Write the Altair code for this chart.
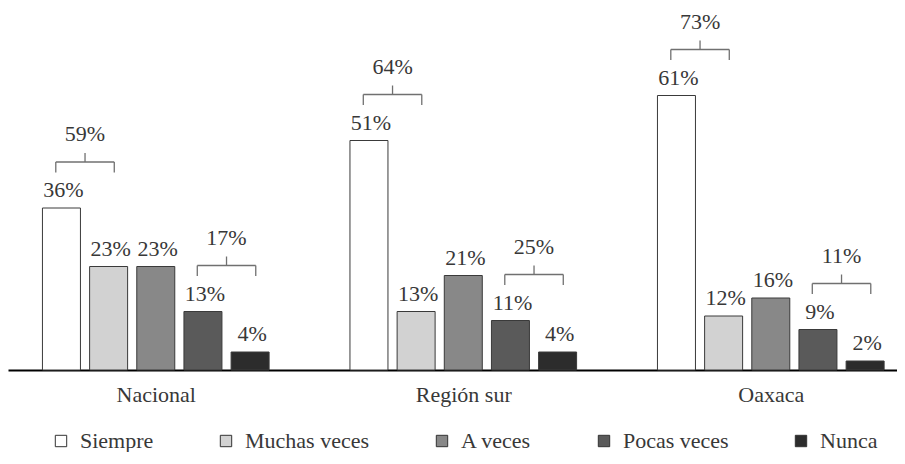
import altair as alt
import pandas as pd

# ---------------- data ----------------
groups = ["Nacional", "Región sur", "Oaxaca"]
categories = ["Siempre", "Muchas veces", "A veces", "Pocas veces", "Nunca"]
nacional = [36, 23, 23, 13, 4]
region_sur = [51, 13, 21, 11, 4]
oaxaca = [61, 12, 16, 9, 2]
top_pair_totals = [59, 64, 73]   # Siempre + Muchas veces (as printed)
low_pair_totals = [17, 25, 11]   # Pocas veces + Nunca (as printed)
fills = ["#ffffff", "#d2d2d2", "#888888", "#5a5a5a", "#2c2c2c"]

# ---------------- layout ----------------
FONT = "'Liberation Serif', 'DejaVu Serif', serif"
TXT = "#383838"
W, H = 889, 362
PX_PER_UNIT = 4.5
YMAX = H / PX_PER_UNIT
GAP = 6.52          # distance between groups, in bar slots
SLOT_PX = 47.7      # pixels per bar slot
X0 = -49 / SLOT_PX
X1 = X0 + W / SLOT_PX
HALF = 0.62         # bracket half width in slots

def up(px):
    return px / PX_PER_UNIT

series = [nacional, region_sur, oaxaca]
rows = []
for gi, g in enumerate(groups):
    for ki, c in enumerate(categories):
        v = series[gi][ki]
        rows.append({"group": g, "category": c, "value": v,
                     "pos": gi * GAP + ki, "label": f"{v}%"})
bars = pd.DataFrame(rows)

brows = []
for gi, g in enumerate(groups):
    for (k0, k1), tot in (((0, 1), top_pair_totals[gi]), ((3, 4), low_pair_totals[gi])):
        base = series[gi][k0]
        mid = gi * GAP + (k0 + k1) / 2
        brows.append({"mid": mid, "xl": mid - HALF, "xr": mid + HALF,
                      "yb": base + up(35.5), "yh": base + up(46),
                      "yt": base + up(55), "base": base, "label": f"{tot}%"})
br = pd.DataFrame(brows)

xscale = alt.Scale(domain=[X0, X1], nice=False, zero=False)
yscale = alt.Scale(domain=[0, YMAX], nice=False)

label_expr = "[" + ",".join(f"'{g}'" for g in groups) + f"][round((datum.value - 2) / {GAP})]"

base_bars = alt.Chart(bars)

bar = base_bars.mark_bar(size=38, orient="vertical", stroke="#3a3a3a", strokeWidth=1).encode(
    x=alt.X("pos:Q", scale=xscale, title=None,
            axis=alt.Axis(values=[2, 2 + GAP, 2 + 2 * GAP], labelExpr=label_expr,
                          ticks=False, grid=False, domainColor="#000000", domainWidth=2,
                          labelFont=FONT, labelFontSize=22, labelColor=TXT,
                          labelPadding=14)),
    y=alt.Y("value:Q", scale=yscale, axis=None),
    color=alt.Color("category:N",
                    scale=alt.Scale(domain=categories, range=fills),
                    legend=alt.Legend(orient="none", legendX=42, legendY=422,
                                      direction="horizontal", title=None,
                                      symbolType="square", symbolSize=130,
                                      symbolStrokeColor="#333333", symbolStrokeWidth=1,
                                      labelFont=FONT, labelFontSize=22, labelColor=TXT,
                                      labelOffset=8, columnPadding=61, padding=0)),
)

bar_text = base_bars.mark_text(dy=-11, dx=2, baseline="alphabetic", font=FONT,
                               fontSize=22, color=TXT).encode(
    x=alt.X("pos:Q", scale=xscale),
    y=alt.Y("value:Q", scale=yscale),
    text="label:N",
)

bc = alt.Chart(br)
rule_style = dict(color="#707070", strokeWidth=1.3)
h_rule = bc.mark_rule(**rule_style).encode(
    x=alt.X("xl:Q", scale=xscale), x2="xr:Q", y=alt.Y("yh:Q", scale=yscale))
l_rule = bc.mark_rule(**rule_style).encode(
    x=alt.X("xl:Q", scale=xscale), y=alt.Y("yb:Q", scale=yscale), y2="yh:Q")
r_rule = bc.mark_rule(**rule_style).encode(
    x=alt.X("xr:Q", scale=xscale), y=alt.Y("yb:Q", scale=yscale), y2="yh:Q")
t_rule = bc.mark_rule(**rule_style).encode(
    x=alt.X("mid:Q", scale=xscale), y=alt.Y("yh:Q", scale=yscale), y2="yt:Q")
b_text = bc.mark_text(dy=-67, baseline="alphabetic", font=FONT, fontSize=22,
                      color=TXT).encode(
    x=alt.X("mid:Q", scale=xscale),
    y=alt.Y("base:Q", scale=yscale),
    text="label:N",
)

chart = alt.layer(bar, bar_text, h_rule, l_rule, r_rule, t_rule, b_text).properties(
    width=W, height=H,
    autosize=alt.AutoSizeParams(type="none"),
    padding={"left": 0, "top": 0, "right": 0, "bottom": 82},
).configure_view(stroke=None)

chart.save("out.html", embed_options={"renderer": "svg", "actions": False})
